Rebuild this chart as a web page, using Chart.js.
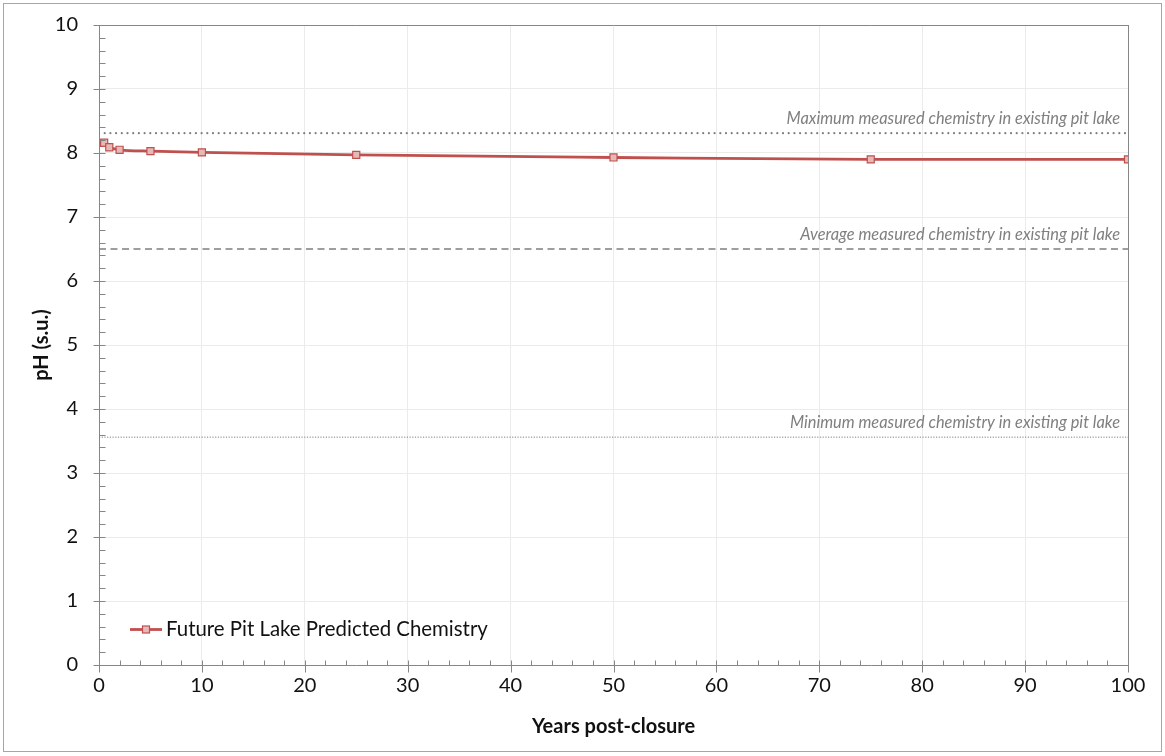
<!DOCTYPE html>
<html>
<head>
<meta charset="utf-8">
<title>pH (s.u.) vs Years post-closure</title>
<script src="https://cdn.jsdelivr.net/npm/chart.js@4.4.0/dist/chart.umd.min.js"></script>
<style>
  html, body { margin: 0; padding: 0; background: #ffffff; }
  #c { display: block; }
</style>
</head>
<body>
<canvas id="c" width="1165" height="756"></canvas>
<script>
// ---- Data ----
const years = [0.5, 1, 2, 5, 10, 25, 50, 75, 100];
const phValues = [8.16, 8.09, 8.05, 8.03, 8.01, 7.97, 7.93, 7.90, 7.90];
const seriesName = 'Future Pit Lake Predicted Chemistry';

// Measured chemistry in the existing pit lake (max / average / min)
const refValues = [8.31, 6.5, 3.56];
const refLabels = [
  'Maximum measured chemistry in existing pit lake',
  'Average measured chemistry in existing pit lake',
  'Minimum measured chemistry in existing pit lake'
];

const xTickValues = [0, 10, 20, 30, 40, 50, 60, 70, 80, 90, 100];
const yTickValues = [0, 1, 2, 3, 4, 5, 6, 7, 8, 9, 10];
const xTitle = 'Years post-closure';
const yTitle = 'pH (s.u.)';

// ---- Styles ----
const RED = '#C0504D';
const RED_FILL = '#E6B9B8';
const AXIS = '#868686';
const GRID = '#ebebeb';
const REF_GREY = '#7f7f7f';
const FONT = 'Lato, "Open Sans", sans-serif';

const refStyles = [
  { width: 2.2, dash: [0, 5.7], cap: 'round' },
  { width: 1.6, dash: [7, 4.5], cap: 'butt' },
  { width: 1, dash: [1.2, 1.5], cap: 'butt' }
];

const xMin = xTickValues[0], xMax = xTickValues[xTickValues.length - 1];
const yMin = yTickValues[0], yMax = yTickValues[yTickValues.length - 1];

const refDatasets = refValues.map((v, i) => ({
  label: refLabels[i],
  data: [{ x: xMin, y: v }, { x: xMax, y: v }],
  borderColor: REF_GREY,
  borderWidth: refStyles[i].width,
  borderDash: refStyles[i].dash,
  borderCapStyle: refStyles[i].cap,
  pointRadius: 0,
  pointHoverRadius: 0,
  fill: false,
  tension: 0,
  order: 2
}));

const mainDataset = {
  label: seriesName,
  data: years.map((x, i) => ({ x, y: phValues[i] })),
  borderColor: RED,
  borderWidth: 2.8,
  backgroundColor: RED_FILL,
  pointStyle: 'rect',
  pointRadius: 5,
  pointBorderWidth: 1.2,
  pointBorderColor: RED,
  pointBackgroundColor: RED_FILL,
  cubicInterpolationMode: 'monotone',
  fill: false,
  order: 1
};

// keep tick-label overflow from pushing the plot area around
function fixBox(scale, prop, size) {
  scale[prop] = size;
  scale.paddingTop = 0;
  scale.paddingBottom = 0;
  scale.paddingLeft = 0;
  scale.paddingRight = 0;
}

// Frame, minor/major tick marks, reference labels and the in-plot legend
const decorations = {
  id: 'decorations',
  afterDraw(chart) {
    const { ctx, chartArea: a, scales } = chart;
    const xs = scales.x, ys = scales.y;
    ctx.save();

    // outer frame
    ctx.strokeStyle = '#a6a6a6';
    ctx.lineWidth = 1;
    ctx.strokeRect(3.5, 3.5, 1158, 748);

    // plot frame (top and right)
    ctx.strokeStyle = AXIS;
    ctx.lineWidth = 1;
    ctx.beginPath();
    ctx.moveTo(a.left, Math.round(a.top) + 0.5);
    ctx.lineTo(a.right, Math.round(a.top) + 0.5);
    ctx.moveTo(Math.round(a.right) + 0.5, a.top);
    ctx.lineTo(Math.round(a.right) + 0.5, a.bottom);
    ctx.stroke();

    // y axis ticks: majors cross the axis, minors inside
    ctx.beginPath();
    const ax = Math.round(a.left) + 0.5;
    for (let v = yMin; v <= yMax + 1e-9; v += 0.2) {
      const y = Math.round(ys.getPixelForValue(v)) + 0.5;
      const major = Math.abs(v - Math.round(v)) < 1e-6;
      ctx.moveTo(major ? ax - 6 : ax, y);
      ctx.lineTo(ax + 6, y);
    }
    // x axis ticks
    const ay = Math.round(a.bottom) + 0.5;
    for (let v = xMin; v <= xMax + 1e-9; v += 2) {
      const x = Math.round(xs.getPixelForValue(v)) + 0.5;
      const major = Math.abs(v / 10 - Math.round(v / 10)) < 1e-6;
      ctx.moveTo(x, ay - 5);
      ctx.lineTo(x, major ? ay + 7 : ay);
    }
    ctx.stroke();

    // reference line labels
    ctx.fillStyle = REF_GREY;
    ctx.font = 'italic 16.4px ' + FONT;
    ctx.textAlign = 'right';
    ctx.textBaseline = 'middle';
    refValues.forEach((v, i) => {
      const y = ys.getPixelForValue(v);
      ctx.fillText(refLabels[i], a.right - 8, y - 14);
    });

    // legend
    const ly = 629.5, lx0 = 130, lx1 = 162;
    ctx.strokeStyle = RED;
    ctx.lineWidth = 2.8;
    ctx.beginPath();
    ctx.moveTo(lx0, ly);
    ctx.lineTo(lx1, ly);
    ctx.stroke();
    const mx = (lx0 + lx1) / 2, s = 7;
    ctx.fillStyle = RED_FILL;
    ctx.fillRect(mx - s / 2, ly - s / 2, s, s);
    ctx.lineWidth = 1.2;
    ctx.strokeRect(mx - s / 2, ly - s / 2, s, s);
    ctx.fillStyle = '#111111';
    ctx.font = '20.4px ' + FONT;
    ctx.textAlign = 'left';
    ctx.fillText(mainDataset.label, 166, ly);

    ctx.restore();
  }
};

new Chart(document.getElementById('c'), {
  type: 'line',
  data: { datasets: [mainDataset, ...refDatasets] },
  options: {
    responsive: false,
    animation: false,
    devicePixelRatio: 1,
    layout: { padding: { left: 0, right: 37, top: 25, bottom: 0 } },
    plugins: {
      legend: { display: false },
      tooltip: { enabled: false }
    },
    scales: {
      x: {
        type: 'linear',
        min: xMin,
        max: xMax,
        afterBuildTicks(scale) { scale.ticks = xTickValues.map(v => ({ value: v })); },
        afterFit(scale) { fixBox(scale, 'height', 91); },
        grid: { color: GRID, lineWidth: 1, drawTicks: false },
        border: { color: AXIS, width: 1 },
        ticks: {
          padding: 9,
          color: '#111111',
          font: { family: FONT, size: 20 },
          maxRotation: 0
        },
        title: {
          display: true,
          text: xTitle,
          color: '#111111',
          font: { family: FONT, size: 20, weight: 'bold' },
          padding: { top: 0, bottom: 17 }
        }
      },
      y: {
        type: 'linear',
        min: yMin,
        max: yMax,
        afterBuildTicks(scale) { scale.ticks = yTickValues.map(v => ({ value: v })); },
        afterFit(scale) { fixBox(scale, 'width', 99); },
        grid: { color: GRID, lineWidth: 1, drawTicks: false },
        border: { color: AXIS, width: 1 },
        ticks: {
          padding: 21,
          color: '#111111',
          font: { family: FONT, size: 20 }
        },
        title: {
          display: true,
          text: yTitle,
          color: '#111111',
          font: { family: FONT, size: 20, weight: 'bold' },
          padding: { top: 30, bottom: 0 }
        }
      }
    }
  },
  plugins: [decorations]
});
</script>
</body>
</html>
